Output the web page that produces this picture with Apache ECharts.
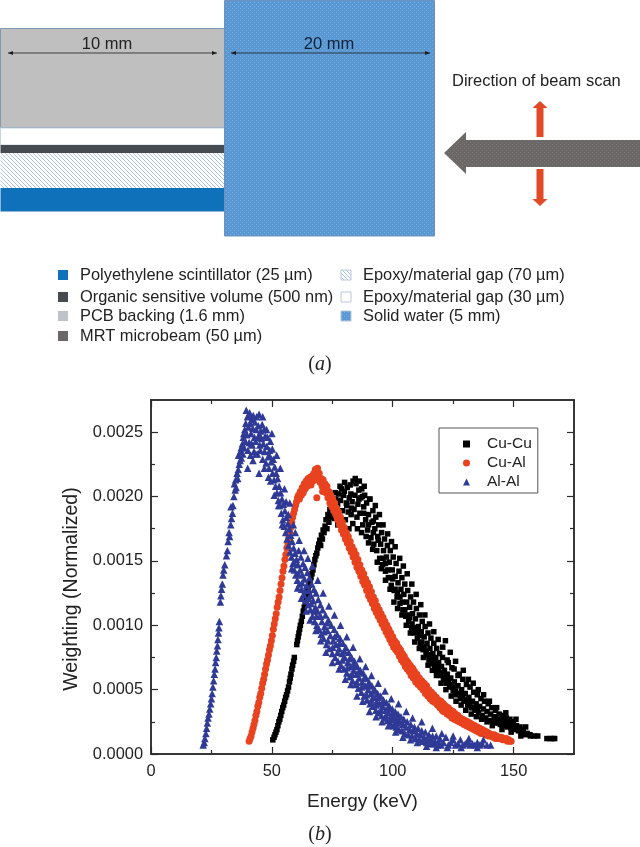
<!DOCTYPE html>
<html><head><meta charset="utf-8">
<style>html,body{margin:0;padding:0;background:#fff}#c{width:640px;height:847px}</style>
<script src="https://cdn.jsdelivr.net/npm/echarts@6/dist/echarts.min.js"></script>
</head><body><div id="c"></div>
<script>
const seriesNames = ['Cu-Cu','Cu-Al','Al-Al'];
const xMajorTicks = [0,50,100,150];
const xMinorTicks = [25,75,125];
const yMajorTicks = [0,.0005,.001,.0015,.002,.0025];
const yMinorTicks = [.00025,.00075,.00125,.00175,.00225];
const diagramLegendLeft = ['Polyethylene scintillator (25 µm)','Organic sensitive volume (500 nm)','PCB backing (1.6 mm)','MRT microbeam (50 µm)'];
const diagramLegendRight = ['Epoxy/material gap (70 µm)','Epoxy/material gap (30 µm)','Solid water (5 mm)'];

const cuCu = [[50.4,.00011],[50.9,.00013],[51.3,.00015],[51.7,.00017],[52.1,.00019],[52.5,.00022],[52.9,.00025],[53.3,.00027],[53.7,.0003],[54.1,.00033],[54.5,.00036],[54.9,.00038],[55.3,.00041],[55.7,.00044],[56.1,.00046],[56.5,.00049],[56.9,.00052],[57.3,.00056],[57.6,.00059],[57.9,.00062],[58.3,.00066],[58.6,.00069],[59,.00072],[59.3,.00075],[60.3,.00085],[60.6,.00088],[60.9,.00091],[61.2,.00094],[61.5,.00097],[61.8,.001],[62.2,.00103],[62.6,.00107],[63,.00111],[63.4,.00114],[63.8,.00117],[64.2,.00121],[64.6,.00124],[65,.00128],[65.4,.00131],[65.8,.00134],[66.2,.00137],[66.6,.0014],[67,.00143],[67.4,.00147],[67.8,.00151],[68.2,.00154],[68.6,.00156],[69,.0016],[69.4,.00163],[69.8,.00166],[70.2,.00162],[70.5,.0017],[70.9,.00167],[71.2,.00174],[71.6,.00172],[72,.00177],[72.4,.00182],[72.8,.00175],[73.2,.00186],[73.6,.0018],[74,.0019],[74.4,.00184],[74.8,.00193],[75.2,.00186],[75.6,.00196],[76,.00183],[76.4,.00198],[76.8,.00188],[77.2,.00194],[77.6,.00202],[78,.00184],[78.4,.00197],[78.8,.00206],[79.2,.00189],[79.6,.00201],[80,.00204],[80.4,.00182],[80.8,.00195],[81.2,.00207],[81.6,.00188],[82,.00199],[82.4,.00209],[82.8,.00186],[83.2,.00196],[83.6,.00212],[84,.0019],[84.4,.00201],[84.8,.0021],[85.2,.00184],[85.6,.00194],[86,.00205],[86.4,.00187],[86.8,.00199],[87.2,.00206],[87.6,.00178],[88,.00192],[88.4,.00201],[88.8,.00182],[89.2,.00195],[89.6,.00174],[90,.00186],[90.6,.00198],[91,.00168],[91.4,.0018],[91.8,.00189],[92.2,.00163],[92.6,.00175],[93,.00184],[93.4,.00158],[93.8,.00169],[94.2,.00178],[94.6,.00152],[95,.00163],[95.4,.00172],[95.8,.00147],[96.2,.00158],[96.6,.00167],[97,.00142],[97.4,.00153],[97.8,.00162],[98.2,.00137],[98.6,.00149],[99,.00158],[99.4,.00131],[99.8,.00143],[100.2,.00153],[100.6,.00127],[101,.00138],[101.4,.00148],[101.8,.00122],[102.2,.00133],[102.6,.00142],[103,.00117],[103.4,.00128],[103.8,.00137],[104.2,.00112],[104.6,.00124],[105,.00132],[105.4,.00107],[105.8,.00118],[106.2,.00127],[106.6,.00103],[107,.00114],[107.4,.00122],[107.8,.00098],[108.2,.00109],[108.6,.00118],[109,.00094],[109.4,.00105],[109.8,.00113],[110.2,.0009],[110.6,.00099],[111,.00108],[111.4,.00086],[111.8,.00095],[112.2,.00103],[112.6,.00081],[113,.00091],[113.4,.00099],[113.8,.00077],[114.2,.00086],[114.6,.00094],[115,.00073],[115.4,.00082],[115.8,.0009],[116.2,.0007],[116.6,.00078],[117,.00086],[117.4,.00067],[117.8,.00075],[118.2,.00082],[118.6,.00064],[119,.00071],[119.4,.00078],[119.8,.00061],[120.2,.00068],[120.6,.00075],[121,.00058],[121.4,.00065],[121.8,.00088],[122.2,.00055],[122.6,.00062],[123,.00071],[123.5,.00052],[124,.00059],[124.5,.00067],[125,.00049],[125.5,.00056],[126,.00072],[126.5,.00046],[127,.00053],[127.5,.00062],[128,.00043],[128.5,.0005],[129,.00058],[129.5,.00041],[130,.00047],[130.5,.00054],[131,.00038],[131.5,.00044],[132,.00052],[132.5,.00036],[133,.00041],[133.5,.00048],[134,.00034],[134.5,.00039],[135,.00046],[135.5,.00032],[136,.00037],[136.5,.00043],[137,.0003],[137.5,.00035],[138,.00041],[138.5,.00028],[139,.00033],[139.5,.00039],[140,.00026],[140.5,.00031],[141,.00036],[141.5,.00025],[142,.00029],[142.5,.00034],[143,.00024],[143.5,.00027],[144,.00031],[144.5,.00023],[145,.00026],[145.5,.0003],[146,.00022],[146.5,.00025],[147,.00028],[147.5,.00021],[148,.00024],[148.5,.00027],[149,.0002],[149.5,.00023],[150,.00025],[150.6,.00019],[151.2,.00022],[152,.00018],[152.7,.00021],[153.4,.00016],[154,.00019],[154.8,.00015],[155.6,.00016],[156.8,.00015],[158.5,.00014],[160,.00014],[163.8,.00012],[165.2,.00012],[166.3,.00012],[167,.00012]];
const cuCuScattered = [[74.5,.00199],[76.2,.00203],[77.3,.00178],[78.2,.00208],[79.4,.00176],[80.1,.00211],[81,.00193],[81.9,.00175],[82.7,.00202],[83.5,.00179],[84.5,.00214],[85.4,.00175],[86.2,.00212],[87.5,.002],[87.1,.00172],[88.2,.00208],[89,.00169],[90.4,.00198],[90,.00164],[91.7,.00159],[92.8,.00193],[92,.00172],[93.6,.00149],[94.5,.00186],[95.3,.00144],[96,.00178],[97,.00135],[97.9,.00171],[98.9,.00128],[99.5,.00165],[100.5,.00118],[101,.00161],[102,.00113],[102.9,.00152],[103.8,.00108],[104.4,.00146],[105.6,.001],[106,.0014],[107.3,.00094],[107.9,.00132],[109.1,.00087],[109.7,.00124],[111,.00082],[111.6,.00116],[112.7,.00075],[113.3,.00108],[114.6,.00069],[115.2,.00101],[116.4,.00065],[117,.00095],[118.1,.00061],[118.8,.00089],[120,.00055],[120.7,.00083],[122.5,.00073],[122,.0005],[123.8,.00079],[124.2,.00045],[125.4,.00066],[126.2,.00041],[127,.00061],[128.3,.00038],[129.2,.00065],[130.2,.00034],[131.3,.00058],[132.5,.00031],[133.3,.00055],[134.6,.00029],[135.4,.0005],[136.8,.00027],[137.6,.00046],[139,.00025],[140,.00041],[141.2,.00022],[143,.00036],[145.2,.00019],[146.8,.00032],[149,.00017],[151,.00027],[153,.00014],[155,.00021],[157,.00014],[98,.00143],[99,.00137],[100,.00136],[101,.00128],[102,.00125],[103,.00122],[104,.00118],[105,.00112],[106,.00108],[107,.00106],[108,.00101],[109,.00098],[110,.00095],[111,.00092],[112,.00087],[113,.00083],[114,.0008],[115,.00077],[116,.00074],[117,.00072],[118,.00069],[119,.00066],[120,.00063],[121,.00061],[122,.00059],[123,.00056],[124,.00054],[125,.00052],[126,.00049],[127,.00047],[128,.00046],[129,.00044],[130,.00042],[131,.00041],[132,.00039],[133,.00036],[134,.00036],[135,.00035],[88,.00187],[90,.00178],[92,.00181],[94,.00166],[96,.00152],[97,.00148],[86,.00198],[83,.00191]];

const cuAl = [[40.6,.0001],[41,.00012],[41.4,.00014],[41.8,.00017],[42.2,.0002],[42.6,.00023],[43,.00026],[43.4,.0003],[43.8,.00033],[44.2,.00037],[44.6,.0004],[45,.00044],[45.4,.00047],[45.8,.00051],[46.2,.00055],[46.6,.00058],[47,.00062],[47.4,.00066],[47.8,.0007],[48.2,.00073],[48.6,.00077],[49,.00081],[49.4,.00084],[49.8,.00088],[50.2,.00092],[50.6,.00097],[51,.00101],[51.4,.00105],[51.8,.00109],[52.2,.00114],[52.6,.00118],[53,.00122],[53.4,.00127],[53.8,.00132],[54.2,.00137],[54.6,.00142],[55,.00146],[55.4,.00151],[55.8,.00155],[56.2,.0016],[56.6,.00164],[57,.00168],[57.4,.00172],[57.8,.00176],[58.2,.0018],[58.6,.00184],[59,.00187],[59.4,.0019],[59.8,.00193],[60.2,.00196],[60.6,.00199],[61,.00201],[61.4,.00198],[61.8,.00204],[62.2,.00201],[62.6,.00207],[63,.00203],[63.4,.0021],[63.8,.00206],[64.2,.00212],[64.6,.00208],[65,.00214],[65.4,.0021],[65.8,.00215],[66.2,.00209],[66.6,.00216],[67,.00212],[67.4,.00218],[67.8,.00213],[68,.00221],[68.6,.00199],[68.9,.00222],[69.2,.00215],[69.6,.00218],[70,.00211],[70.4,.00214],[70.8,.00208],[71.2,.00213],[71.6,.00206],[72,.0021],[72.4,.00203],[72.8,.00208],[73.2,.00199],[73.6,.00204],[74,.00195],[74.4,.00201],[74.8,.00192],[75.2,.00198],[75.6,.00189],[76,.00195],[76.4,.00186],[76.8,.00191],[77.2,.00182],[77.6,.00188],[78,.00178],[78.4,.00184],[78.8,.00174],[79.2,.0018],[79.6,.00171],[80,.00176],[80.4,.00167],[80.8,.00172],[81.2,.00164],[81.6,.00169],[82,.0016],[82.4,.00165],[82.8,.00157],[83.2,.00161],[83.6,.00153],[84,.00158],[84.4,.00149],[84.8,.00155],[85.2,.00145],[85.6,.00151],[86,.00142],[86.4,.00147],[86.8,.00138],[87.2,.00143],[87.6,.00134],[88,.0014],[88.4,.00131],[88.8,.00136],[89.2,.00127],[89.6,.00133],[90,.00123],[90.4,.0013],[90.8,.0012],[91.2,.00126],[91.6,.00117],[92,.00122],[92.4,.00113],[92.8,.00119],[93.2,.0011],[93.6,.00115],[94,.00107],[94.4,.00112],[94.8,.00104],[95.2,.00109],[95.6,.00101],[96,.00106],[96.4,.00098],[96.8,.00103],[97.2,.00095],[97.6,.001],[98,.00092],[98.4,.00097],[98.8,.00089],[99.2,.00094],[99.6,.00086],[100,.00091],[100.4,.00083],[100.8,.00088],[101.2,.00081],[101.6,.00086],[102,.00079],[102.4,.00083],[102.8,.00076],[103.2,.00081],[103.6,.00073],[104,.00078],[104.4,.00071],[104.8,.00076],[105.2,.00068],[105.6,.00073],[106,.00066],[106.4,.00071],[106.8,.00064],[107.2,.00069],[107.6,.00061],[108,.00067],[108.5,.00059],[109,.00064],[109.5,.00056],[110,.00062],[110.5,.00054],[111,.00059],[111.5,.00052],[112,.00057],[112.5,.0005],[113,.00055],[113.5,.00047],[114,.00053],[114.5,.00045],[115,.0005],[115.5,.00043],[116,.00048],[116.5,.00041],[117,.00046],[117.5,.0004],[118,.00044],[118.5,.00038],[119,.00042],[119.5,.00036],[120,.00041],[120.5,.00034],[121,.00039],[121.5,.00033],[122,.00037],[122.5,.00031],[123,.00036],[123.5,.0003],[124,.00034],[124.5,.00028],[125,.00033],[125.5,.00027],[126,.00031],[126.5,.00026],[127,.0003],[127.5,.00025],[128,.00028],[128.5,.00024],[129,.00027],[129.5,.00023],[130,.00026],[130.5,.00022],[131,.00025],[131.5,.00021],[132,.00024],[132.5,.0002],[133,.00023],[133.5,.00019],[134,.00022],[134.5,.00018],[135,.00021],[135.5,.00017],[136,.0002],[136.5,.00016],[137,.00019],[137.5,.00016],[138,.00018],[138.5,.00015],[139,.00017],[139.5,.00014],[140,.00016],[140.5,.00014],[141,.00015],[141.5,.00013],[142,.00015],[142.5,.00012],[143,.00014],[143.5,.00012],[144,.00013],[144.5,.00012],[145,.00013],[145.5,.00011],[146,.00012],[146.5,.00011],[147,.00012],[147.5,.0001],[148,.00011],[148.6,.0001],[149,.0001]];
const cuAlScattered = [[71,.00204],[74,.00198],[77,.00184],[86.6,.00141],[92.3,.00116],[108.4,.00066],[121,.00033],[129.6,.00025]];

const alAl = [[21.6,.00007],[22,.00009],[22.3,.00012],[22.7,.00016],[23,.0002],[23.3,.00024],[23.6,.00028],[24,.00031],[24.3,.00035],[24.7,.00039],[25,.00043],[25.3,.00047],[25.6,.00052],[25.9,.00057],[26.2,.00062],[26.5,.00066],[26.7,.00071],[27,.00075],[27.2,.0008],[27.5,.00084],[27.7,.00089],[27.9,.00094],[28.1,.00098],[28.3,.00103],[28.7,.00118],[28.9,.00123],[29.2,.00128],[29.5,.00132],[29.8,.00139],[30.1,.00143],[30.5,.00147],[31.2,.00154],[31.6,.00158],[31.9,.00165],[32.3,.00172],[32.5,.00169],[33,.00178],[33.3,.00183],[33.7,.00187],[33.1,.00192],[33.9,.00193],[34.3,.002],[34.8,.00205],[34.5,.0021],[35.2,.00207],[35,.00213],[35.6,.00218],[35.9,.00214],[36.1,.00221],[36.5,.00225],[36.2,.00232],[36.9,.00228],[37,.00235],[37.4,.0023],[37.3,.00238],[37.8,.00241],[38,.00233],[38.2,.00246],[38.5,.00238],[38.4,.00249],[38.8,.00252],[39,.00243],[39.2,.00257],[39.4,.00267],[39.7,.00248],[39.9,.00262],[40.1,.00236],[40.3,.00254],[40.6,.00242],[40.8,.00265],[41,.00257],[41.2,.00232],[41.4,.00249],[41.7,.0026],[41.9,.0024],[42.1,.00253],[42.3,.00263],[42.6,.00235],[42.8,.00246],[43,.00258],[43.3,.00243],[43.5,.00252],[43.7,.00262],[44,.00233],[44.2,.00246],[44.4,.00255],[44.7,.00264],[45,.0024],[45.2,.00236],[45.4,.00251],[45.7,.00245],[46,.00256],[46.2,.00229],[46.5,.00241],[46.8,.00252],[47,.00235],[47.3,.00247],[47.6,.00226],[47.9,.00239],[48.2,.00246],[48.5,.00231],[48.8,.00222],[49.1,.00236],[49.4,.00243],[49.7,.00227],[50,.00249],[50.3,.00218],[50.6,.00229],[50.9,.00213],[51.2,.00223],[51.5,.00208],[51.8,.00218],[52.1,.00203],[52.4,.00214],[52.7,.00197],[53,.00208],[53.3,.00193],[53.6,.00203],[53.9,.00187],[54.2,.00198],[54.5,.00182],[54.8,.00194],[55.1,.00177],[55.4,.00189],[55.7,.00172],[56,.00184],[56.3,.00167],[56.6,.00179],[56.9,.00162],[57.2,.00175],[57.5,.00157],[57.8,.0017],[58.1,.00153],[58.4,.00165],[58.7,.00148],[59,.0016],[59.3,.00143],[59.6,.00156],[59.9,.00139],[60.2,.00151],[60.5,.00135],[60.8,.00147],[61.1,.00158],[61.4,.00132],[61.7,.00143],[62,.00153],[62.3,.00128],[62.6,.00139],[62.9,.00148],[63.2,.00124],[63.5,.00136],[63.8,.00145],[64.1,.00119],[64.4,.00131],[64.7,.00141],[65,.00116],[65.3,.00127],[65.6,.00137],[65.9,.00112],[66.2,.00123],[66.5,.00132],[66.8,.00107],[67.1,.00119],[67.4,.00128],[67.7,.00103],[68,.00114],[68.3,.00125],[68.6,.001],[68.9,.00111],[69.2,.0012],[69.5,.00097],[69.8,.00107],[70.1,.00116],[70.4,.00093],[70.7,.00103],[71,.00112],[71.4,.0009],[71.8,.00099],[72.2,.00108],[72.6,.00085],[73,.00096],[73.4,.00104],[73.8,.00082],[74.2,.00092],[74.6,.001],[75,.00078],[75.4,.00088],[75.8,.00097],[76.2,.00075],[76.6,.00085],[77,.00093],[77.4,.00072],[77.8,.00082],[78.2,.0009],[78.6,.00069],[79,.00078],[79.4,.00086],[79.8,.00066],[80.2,.00075],[80.6,.00083],[81,.00063],[81.4,.00071],[81.8,.00079],[82.2,.0006],[82.6,.00068],[83,.00075],[83.4,.00057],[83.8,.00065],[84.2,.00072],[84.6,.00054],[85,.00062],[85.4,.00068],[85.8,.00051],[86.2,.00059],[86.6,.00065],[87,.00048],[87.4,.00056],[87.8,.00063],[88.2,.00045],[88.6,.00053],[89,.00059],[89.4,.00042],[89.8,.0005],[90.2,.00056],[90.6,.00039],[91,.00047],[91.4,.00053],[91.8,.00037],[92.2,.00044],[92.6,.0005],[93,.00034],[93.4,.00041],[93.8,.00047],[94.2,.00032],[94.6,.00039],[95,.00045],[95.4,.0003],[95.8,.00037],[96.2,.00042],[96.6,.00028],[97,.00034],[97.4,.0004],[97.8,.00026],[98.2,.00032],[98.6,.00037],[99,.00024],[99.4,.0003],[99.8,.00035],[100.2,.00022],[100.6,.00028],[101,.00033],[101.4,.00021],[101.8,.00026],[102.2,.00031],[102.6,.00019],[103,.00024],[103.4,.00029],[103.8,.00018],[104.2,.00023],[104.6,.00027],[105,.00016],[105.5,.00021],[106,.00025],[106.5,.00015],[107,.00019],[107.5,.00023],[108,.00014],[108.5,.00018],[109,.00021],[109.5,.00012],[110,.00016],[110.5,.0002],[111,.00011],[111.5,.00015],[112,.00018],[112.5,.0001],[113,.00013],[113.5,.00017],[114,.00009],[114.5,.00012],[115,.00015],[115.5,.00008],[116,.00011],[116.5,.00014],[117,.00008],[117.5,.0001],[118,.00014],[118.5,.00007],[119,.00009],[119.5,.00012],[120,.00007],[121,.00009],[122,.00013],[123,.00007],[124,.00009],[125,.00011],[126,.00007],[127,.00008],[128,.00011],[129,.00007],[130,.00008],[131,.0001],[132,.00007],[133,.00008],[134,.00007],[135,.00009],[136,.00007],[137,.00008],[139,.00007],[140.5,.00007]];
const alAlScattered = [[40,.00222],[44.7,.00218],[40.4,.00263],[41.5,.00241],[42.2,.00228],[43.4,.00233],[44.9,.00248],[46.2,.00262],[46.9,.00222],[47.8,.00252],[48.6,.00215],[49.5,.00212],[49,.00232],[50.2,.00237],[51,.00201],[52,.00232],[52.8,.00193],[53.5,.00222],[54.3,.00178],[55.2,.00206],[55.9,.00196],[56.8,.00186],[57.4,.00195],[58.2,.00144],[58.9,.00178],[59.7,.00172],[60.6,.00129],[61.3,.00166],[62.2,.00121],[63.3,.00158],[64.2,.00111],[64.9,.00152],[65.8,.00104],[66.7,.00146],[68.2,.00096],[69,.00135],[70.2,.00088],[71.2,.00125],[72.4,.00079],[73.6,.00115],[75,.00071],[75.9,.00108],[77.8,.00066],[78.4,.001],[80.4,.00058],[81,.00091],[82.7,.00054],[83.6,.00083],[85.2,.00045],[86.4,.00074],[87.6,.00041],[88.8,.00068],[90.4,.00033],[91.2,.00061],[93.1,.00029],[94,.00055],[95.6,.00025],[96.8,.00049],[98.2,.00022],[99.4,.00043],[101.2,.00017],[102.4,.00039],[104.2,.00013],[105.6,.00033],[107.4,.00011],[108.2,.00028],[110.2,.00009],[112,.00025],[114,.00006],[116.4,.0002],[118,.00005],[120.3,.00016],[122.6,.00005],[125,.00014],[128.3,.00005],[131.5,.00012],[135,.00005],[137.5,.00011],[75.2,.00083],[76,.00091],[77.2,.00079],[78,.00086],[79.2,.00073],[80,.0008],[81.2,.00067],[82.1,.00074],[83.2,.00062],[84,.00069],[85.2,.00056],[86,.00064],[87.2,.00052],[88.2,.00059],[89.2,.00046],[90,.00053],[91.2,.00042],[92,.00049],[93.2,.00038],[94,.00044],[95.2,.00034],[96,.0004],[97.2,.0003],[98,.00036],[99.2,.00027],[100,.00032],[101.2,.00024],[102,.00028],[70.2,.00107],[71.6,.00095],[72.9,.00102],[73.2,.00088],[65.2,.00121],[66.2,.00117],[67.5,.00111],[68.4,.00107],[62.5,.00133],[63.7,.00127],[60.9,.0014],[59.2,.00149]];

const ink = '#2b2b2b', sans = '"Liberation Sans", Arial, sans-serif';

function patternCanvas(size, bg, draw) {
  const c = document.createElement('canvas'); c.width = c.height = size;
  const g = c.getContext('2d'); g.fillStyle = bg; g.fillRect(0,0,size,size); draw(g); return {image:c, repeat:'repeat'};
}
const dotFill = (bg, fg) => patternCanvas(4, bg, g => { g.fillStyle = fg; g.fillRect(0,0,1,1); g.fillRect(2,2,1,1); });
const hatchFill = patternCanvas(4, '#ffffff', g => {
  g.strokeStyle = '#a8c4e0'; g.lineWidth = 1;
  g.beginPath(); g.moveTo(-1,-1); g.lineTo(5,5); g.moveTo(-1,3); g.lineTo(1,5); g.moveTo(3,-1); g.lineTo(5,1); g.stroke();
});
const waterFill = dotFill('#5a98d4', '#74aade');
const beamFill = dotFill('#6b6767', '#7d7979');

const rect = (x,y,w,h,fill,stroke) => ({type:'rect',shape:{x,y,width:w,height:h},style:{fill,stroke:stroke||null,lineWidth:stroke?1:0},silent:true});
const poly = (points,fill) => ({type:'polygon',shape:{points},style:{fill},silent:true});
const label = (x,y,text,size,align,fill) => ({type:'text',x,y,style:{text,fill:fill||'#222',font:`${size}px ${sans}`,align:align||'left',verticalAlign:'middle'},silent:true});
function dimension(x0,x1,y) {
  return [
    {type:'line',shape:{x1:x0,y1:y,x2:x1,y2:y},style:{stroke:'#1c1c1c',lineWidth:.8},silent:true},
    poly([[x0,y],[x0+5,y-2],[x0+5,y+2]],'#1c1c1c'), poly([[x1,y],[x1-5,y-2],[x1-5,y+2]],'#1c1c1c')
  ];
}
const caption = (y,ch) => ({type:'text',x:320,y,style:{
  rich:{r:{font:'20px "Liberation Serif", serif',fill:'#222'},i:{font:'italic 20px "Liberation Serif", serif',fill:'#222'}},
  text:`{r|(}{i|${ch}}{r|)}`,align:'center',verticalAlign:'middle'},silent:true});

const diagram = [
  rect(.5,28.5,224.5,99,'#bfbfbf','#8497b0'),
  rect(.5,128,224.5,17,'#ffffff','#c7d3e2'),
  rect(.5,145,224.5,8,'#474a50'),
  rect(.5,153,224.5,35,hatchFill),
  rect(.5,188,224.5,23.5,'#1071bb'),
  rect(224.5,.5,210,235.5,waterFill,'#6f93bd'),
  ...dimension(8,217,53), ...dimension(231,430,53),
  label(107,44,'10 mm',16.5,'center'), label(329,44,'20 mm',16.5,'center','#12233a'),
  label(452,81,'Direction of beam scan',16.5),
  poly([[444,153],[466,132],[466,140],[640,140],[640,167],[466,167],[466,174]],beamFill),
  poly([[540,101],[547.5,108],[543.5,108],[543.5,137],[536.5,137],[536.5,108],[532.5,108]],'#e04a26'),
  poly([[540,206],[547.5,199],[543.5,199],[543.5,169],[536.5,169],[536.5,199],[532.5,199]],'#e04a26')
];
const swatchFills = ['#1071bb','#474a50','#bfc3c9','#6b6767'], swatchFillsR = [hatchFill,'#ffffff',waterFill];
const rowY = [275,297,316,336];
diagramLegendLeft.forEach((t,i)=>{ diagram.push(rect(58,rowY[i]-5,10,10,swatchFills[i]), label(80,rowY[i],t,16.4)); });
diagramLegendRight.forEach((t,i)=>{ diagram.push(rect(341,rowY[i]-5,10,10,swatchFillsR[i],'#b9c8da'), label(363,rowY[i],t,16.4)); });
diagram.push(caption(365,'a'), caption(835,'b'));

const grid = {left:151,top:400,width:423,height:354};
const line = {onZero:false,lineStyle:{color:ink,width:1.5}};
function xAx(position, ticks, len, extra) {
  return Object.assign({type:'value',position,min:0,max:175,splitLine:{show:false},axisLine:line,
    axisTick:{show:true,inside:true,length:len,customValues:ticks,lineStyle:{color:ink,width:1.2}},axisLabel:{show:false}},extra||{});
}
function yAx(position, ticks, len, extra) {
  return Object.assign({type:'value',position,min:0,max:.00275,splitLine:{show:false},axisLine:line,
    axisTick:{show:true,inside:true,length:len,customValues:ticks,lineStyle:{color:ink,width:1.2}},axisLabel:{show:false}},extra||{});
}
const mkSeries = (name,data,symbol,size,color)=>({name,type:'scatter',data,symbol,symbolSize:size,itemStyle:{color,opacity:1},animation:false,large:false});

echarts.init(document.getElementById('c'),null,{renderer:'canvas'}).setOption({
  animation:false, backgroundColor:'#fff', grid,
  xAxis:[
    xAx('bottom',xMajorTicks,7,{name:'Energy (keV)',nameLocation:'middle',nameGap:38,nameTextStyle:{fontFamily:sans,fontSize:19,color:'#222'},
      axisLabel:{show:true,customValues:xMajorTicks,fontFamily:sans,fontSize:16.4,color:'#222',margin:9}}),
    xAx('top',xMajorTicks,7), xAx('bottom',xMinorTicks,4), xAx('top',xMinorTicks,4)
  ],
  yAxis:[
    yAx('left',yMajorTicks,7,{name:'Weighting (Normalized)',nameLocation:'middle',nameGap:68,nameRotate:90,
      nameTextStyle:{fontFamily:sans,fontSize:19.5,color:'#222',padding:[0,0,0,-24]},
      axisLabel:{show:true,customValues:yMajorTicks,formatter:v=>v.toFixed(4),fontFamily:sans,fontSize:16.4,color:'#222',margin:8}}),
    yAx('right',yMajorTicks,7), yAx('left',yMinorTicks,4), yAx('right',yMinorTicks,4)
  ],
  legend:{left:439,top:428,orient:'vertical',padding:[8,6,3,24],itemGap:3,itemWidth:7,itemHeight:7,borderColor:'#555',borderWidth:1,
    textStyle:{fontFamily:sans,fontSize:15.5,color:'#222',padding:[0,0,0,12]},
    data:[{name:'Cu-Cu',icon:'rect'},{name:'Cu-Al',icon:'circle'},{name:'Al-Al',icon:'triangle'}]},
  series:[
    mkSeries(seriesNames[0],cuCu.concat(cuCuScattered),'rect',5.5,'#000000'),
    mkSeries(seriesNames[1],cuAl.concat(cuAlScattered),'circle',7,'#e8421f'),
    mkSeries(seriesNames[2],alAl.concat(alAlScattered),'triangle',7.5,'#2f3a96')
  ],
  graphic:{elements:diagram}
});
</script></body></html>
